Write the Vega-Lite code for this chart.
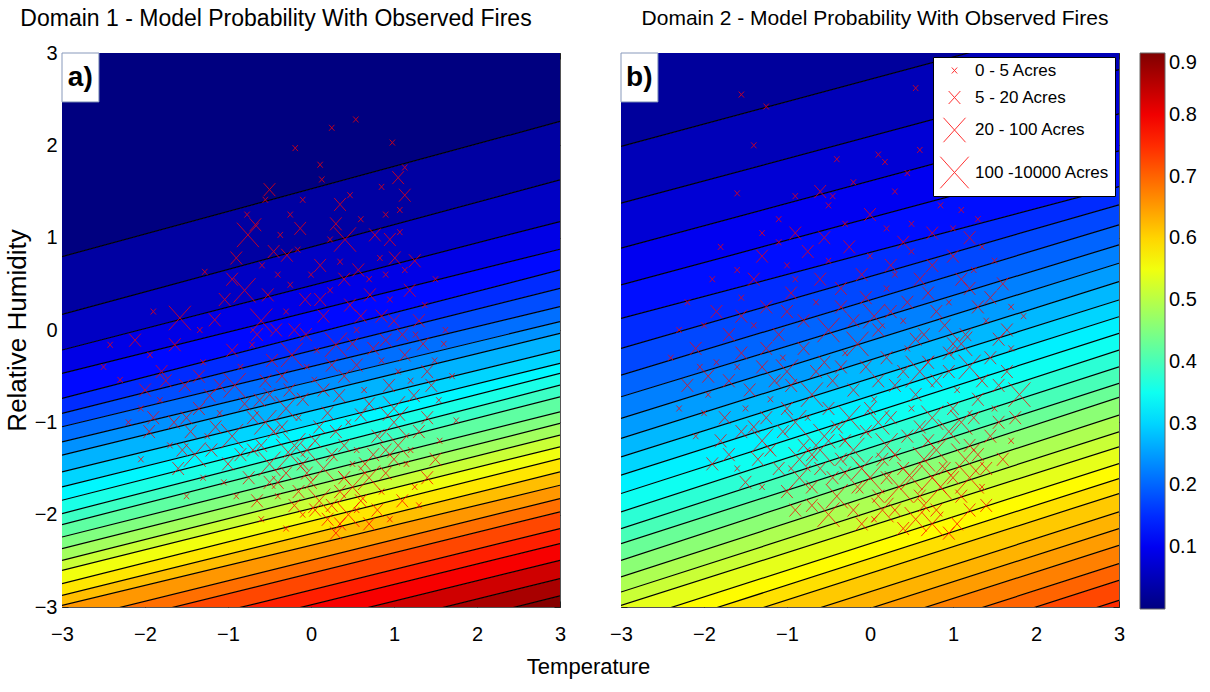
{
"$schema":"https://vega.github.io/schema/vega-lite/v6.json",
"background":"white",
"padding":{"left":3,"top":7,"right":5,"bottom":5},
"bounds":"flush",
"spacing":61,
"title":{"text":"Temperature","orient":"bottom","anchor":"middle","fontSize":22,"font":"Liberation Sans","fontWeight":"normal","color":"#000","offset":12,"dx":-12},
"config":{
 "view":{"stroke":"#555","strokeWidth":1},
 "axis":{"labelFont":"Liberation Sans","labelFontSize":20,"labelColor":"#000","tickColor":"#222","tickWidth":1,"domain":false,"grid":false,"titleFont":"Liberation Sans","titleFontSize":26,"titleFontWeight":"normal","titleColor":"#000"}
},
"resolve":{"legend":{"color":"independent","size":"independent"}},
"datasets":{
"bandsA":[
{"v":0,"T":-3,"hi":10,"lo":0.795},{"v":0,"T":3,"hi":10,"lo":2.259},
{"v":0.03,"T":-3,"hi":0.795,"lo":0.17},{"v":0.03,"T":3,"hi":2.259,"lo":1.627},
{"v":0.06,"T":-3,"hi":0.17,"lo":-0.217},{"v":0.06,"T":3,"hi":1.627,"lo":1.175},
{"v":0.09,"T":-3,"hi":-0.217,"lo":-0.47},{"v":0.09,"T":3,"hi":1.175,"lo":0.875},
{"v":0.12,"T":-3,"hi":-0.47,"lo":-0.741},{"v":0.12,"T":3,"hi":0.875,"lo":0.651},
{"v":0.15,"T":-3,"hi":-0.741,"lo":-0.904},{"v":0.15,"T":3,"hi":0.651,"lo":0.452},
{"v":0.18,"T":-3,"hi":-0.904,"lo":-1.048},{"v":0.18,"T":3,"hi":0.452,"lo":0.253},
{"v":0.21,"T":-3,"hi":-1.048,"lo":-1.211},{"v":0.21,"T":3,"hi":0.253,"lo":0.09},
{"v":0.24,"T":-3,"hi":-1.211,"lo":-1.356},{"v":0.24,"T":3,"hi":0.09,"lo":-0.036},
{"v":0.27,"T":-3,"hi":-1.356,"lo":-1.537},{"v":0.27,"T":3,"hi":-0.036,"lo":-0.217},
{"v":0.3,"T":-3,"hi":-1.537,"lo":-1.699},{"v":0.3,"T":3,"hi":-0.217,"lo":-0.361},
{"v":0.33,"T":-3,"hi":-1.699,"lo":-1.844},{"v":0.33,"T":3,"hi":-0.361,"lo":-0.47},
{"v":0.36,"T":-3,"hi":-1.844,"lo":-1.988},{"v":0.36,"T":3,"hi":-0.47,"lo":-0.597},
{"v":0.39,"T":-3,"hi":-1.988,"lo":-2.108},{"v":0.39,"T":3,"hi":-0.597,"lo":-0.723},
{"v":0.42,"T":-3,"hi":-2.108,"lo":-2.242},{"v":0.42,"T":3,"hi":-0.723,"lo":-0.886},
{"v":0.45,"T":-3,"hi":-2.242,"lo":-2.368},{"v":0.45,"T":3,"hi":-0.886,"lo":-1.012},
{"v":0.48,"T":-3,"hi":-2.368,"lo":-2.495},{"v":0.48,"T":3,"hi":-1.012,"lo":-1.139},
{"v":0.515,"T":-3,"hi":-2.495,"lo":-2.603},{"v":0.515,"T":3,"hi":-1.139,"lo":-1.265},
{"v":0.55,"T":-3,"hi":-2.603,"lo":-2.748},{"v":0.55,"T":3,"hi":-1.265,"lo":-1.392},
{"v":0.585,"T":-3,"hi":-2.748,"lo":-2.875},{"v":0.585,"T":3,"hi":-1.392,"lo":-1.537},
{"v":0.62,"T":-3,"hi":-2.875,"lo":-2.983},{"v":0.62,"T":3,"hi":-1.537,"lo":-1.681},
{"v":0.655,"T":-3,"hi":-2.983,"lo":-3.16},{"v":0.655,"T":3,"hi":-1.681,"lo":-1.826},
{"v":0.69,"T":-3,"hi":-3.16,"lo":-3.3},{"v":0.69,"T":3,"hi":-1.826,"lo":-1.97},
{"v":0.725,"T":-3,"hi":-3.3,"lo":-3.48},{"v":0.725,"T":3,"hi":-1.97,"lo":-2.151},
{"v":0.76,"T":-3,"hi":-3.48,"lo":-3.64},{"v":0.76,"T":3,"hi":-2.151,"lo":-2.314},
{"v":0.795,"T":-3,"hi":-3.64,"lo":-3.82},{"v":0.795,"T":3,"hi":-2.314,"lo":-2.495},
{"v":0.83,"T":-3,"hi":-3.82,"lo":-4.02},{"v":0.83,"T":3,"hi":-2.495,"lo":-2.693},
{"v":0.865,"T":-3,"hi":-4.02,"lo":-4.22},{"v":0.865,"T":3,"hi":-2.693,"lo":-2.88},
{"v":0.895,"T":-3,"hi":-4.22,"lo":-10},{"v":0.895,"T":3,"hi":-2.88,"lo":-10}
],
"bandsB":[
{"v":0.025,"T":-3,"hi":10,"lo":1.988},{"v":0.025,"T":3,"hi":10,"lo":3.44},
{"v":0.05,"T":-3,"hi":1.988,"lo":1.374},{"v":0.05,"T":3,"hi":3.44,"lo":2.82},
{"v":0.075,"T":-3,"hi":1.374,"lo":0.886},{"v":0.075,"T":3,"hi":2.82,"lo":2.34},
{"v":0.1,"T":-3,"hi":0.886,"lo":0.488},{"v":0.1,"T":3,"hi":2.34,"lo":1.94},
{"v":0.125,"T":-3,"hi":0.488,"lo":0.126},{"v":0.125,"T":3,"hi":1.94,"lo":1.554},
{"v":0.15,"T":-3,"hi":0.126,"lo":-0.199},{"v":0.15,"T":3,"hi":1.554,"lo":1.356},
{"v":0.175,"T":-3,"hi":-0.199,"lo":-0.488},{"v":0.175,"T":3,"hi":1.356,"lo":1.139},
{"v":0.2,"T":-3,"hi":-0.488,"lo":-0.723},{"v":0.2,"T":3,"hi":1.139,"lo":0.922},
{"v":0.225,"T":-3,"hi":-0.723,"lo":-0.958},{"v":0.225,"T":3,"hi":0.922,"lo":0.723},
{"v":0.25,"T":-3,"hi":-0.958,"lo":-1.175},{"v":0.25,"T":3,"hi":0.723,"lo":0.524},
{"v":0.275,"T":-3,"hi":-1.175,"lo":-1.374},{"v":0.275,"T":3,"hi":0.524,"lo":0.325},
{"v":0.3,"T":-3,"hi":-1.374,"lo":-1.573},{"v":0.3,"T":3,"hi":0.325,"lo":0.144},
{"v":0.325,"T":-3,"hi":-1.573,"lo":-1.771},{"v":0.325,"T":3,"hi":0.144,"lo":-0.036},
{"v":0.35,"T":-3,"hi":-1.771,"lo":-1.97},{"v":0.35,"T":3,"hi":-0.036,"lo":-0.217},
{"v":0.375,"T":-3,"hi":-1.97,"lo":-2.151},{"v":0.375,"T":3,"hi":-0.217,"lo":-0.398},
{"v":0.4,"T":-3,"hi":-2.151,"lo":-2.314},{"v":0.4,"T":3,"hi":-0.398,"lo":-0.578},
{"v":0.43,"T":-3,"hi":-2.314,"lo":-2.495},{"v":0.43,"T":3,"hi":-0.578,"lo":-0.73},
{"v":0.46,"T":-3,"hi":-2.495,"lo":-2.675},{"v":0.46,"T":3,"hi":-0.73,"lo":-0.922},
{"v":0.49,"T":-3,"hi":-2.675,"lo":-2.838},{"v":0.49,"T":3,"hi":-0.922,"lo":-1.103},
{"v":0.515,"T":-3,"hi":-2.838,"lo":-2.983},{"v":0.515,"T":3,"hi":-1.103,"lo":-1.265},
{"v":0.54,"T":-3,"hi":-2.983,"lo":-3.18},{"v":0.54,"T":3,"hi":-1.265,"lo":-1.446},
{"v":0.565,"T":-3,"hi":-3.18,"lo":-3.34},{"v":0.565,"T":3,"hi":-1.446,"lo":-1.609},
{"v":0.59,"T":-3,"hi":-3.34,"lo":-3.5},{"v":0.59,"T":3,"hi":-1.609,"lo":-1.771},
{"v":0.61,"T":-3,"hi":-3.5,"lo":-3.7},{"v":0.61,"T":3,"hi":-1.771,"lo":-1.97},
{"v":0.63,"T":-3,"hi":-3.7,"lo":-3.88},{"v":0.63,"T":3,"hi":-1.97,"lo":-2.151},
{"v":0.65,"T":-3,"hi":-3.88,"lo":-4.06},{"v":0.65,"T":3,"hi":-2.151,"lo":-2.332},
{"v":0.675,"T":-3,"hi":-4.06,"lo":-4.26},{"v":0.675,"T":3,"hi":-2.332,"lo":-2.531},
{"v":0.7,"T":-3,"hi":-4.26,"lo":-4.44},{"v":0.7,"T":3,"hi":-2.531,"lo":-2.712},
{"v":0.725,"T":-3,"hi":-4.44,"lo":-4.66},{"v":0.725,"T":3,"hi":-2.712,"lo":-2.928},
{"v":0.75,"T":-3,"hi":-4.66,"lo":-10},{"v":0.75,"T":3,"hi":-2.928,"lo":-10}
],
"firesA":[
{"T":0.54,"RH":2.28,"c":1},{"T":0.25,"RH":2.19,"c":1},{"T":-0.19,"RH":1.97,"c":1},{"T":0.98,"RH":2.03,"c":1},{"T":0.11,"RH":1.79,"c":1},{"T":0.13,"RH":1.63,"c":1},{"T":1.05,"RH":1.65,"c":2},{"T":1.13,"RH":1.76,"c":1},{"T":-0.5,"RH":1.52,"c":2},{"T":-0.55,"RH":1.41,"c":1},{"T":-0.77,"RH":1.25,"c":1},{"T":-0.25,"RH":1.25,"c":1},{"T":-0.1,"RH":1.41,"c":1},{"T":0.35,"RH":1.36,"c":2},{"T":0.47,"RH":1.46,"c":1},{"T":1.13,"RH":1.46,"c":2},{"T":1.07,"RH":1.3,"c":1},{"T":-0.76,"RH":1.03,"c":3},{"T":-0.67,"RH":1.14,"c":2},{"T":-0.37,"RH":1.03,"c":1},{"T":-0.13,"RH":1.1,"c":2},{"T":0.23,"RH":0.98,"c":1},{"T":0.41,"RH":0.98,"c":3},{"T":0.77,"RH":1.03,"c":2},{"T":0.95,"RH":0.98,"c":2},{"T":1.07,"RH":1.06,"c":1},{"T":0.6,"RH":1.2,"c":1},{"T":0.85,"RH":1.55,"c":1},
{"T":-1.28,"RH":0.63,"c":1},{"T":-0.9,"RH":0.78,"c":2},{"T":-0.59,"RH":0.7,"c":1},{"T":-0.29,"RH":0.81,"c":2},{"T":-0.16,"RH":0.87,"c":1},{"T":0.11,"RH":0.7,"c":2},{"T":0.35,"RH":0.74,"c":1},{"T":0.57,"RH":0.65,"c":2},{"T":0.83,"RH":0.78,"c":1},{"T":1.01,"RH":0.78,"c":2},{"T":1.13,"RH":0.65,"c":1},{"T":-1.04,"RH":0.33,"c":2},{"T":-0.8,"RH":0.43,"c":3},{"T":-0.52,"RH":0.38,"c":2},{"T":-0.25,"RH":0.49,"c":1},{"T":-0.07,"RH":0.33,"c":2},{"T":0.11,"RH":0.33,"c":2},{"T":0.23,"RH":0.43,"c":1},{"T":0.47,"RH":0.27,"c":2},{"T":0.71,"RH":0.38,"c":2},{"T":0.95,"RH":0.33,"c":1},{"T":1.19,"RH":0.43,"c":2},{"T":1.37,"RH":0.27,"c":1},{"T":-1.58,"RH":0.13,"c":3},{"T":-1.34,"RH":0.0,"c":1},{"T":-1.16,"RH":0.11,"c":2},{"T":-0.6,"RH":0.1,"c":3},{"T":-0.42,"RH":0.0,"c":2},{"T":-0.06,"RH":-0.05,"c":2},{"T":0.3,"RH":-0.16,"c":3},{"T":0.55,"RH":0.0,"c":1},{"T":0.9,"RH":-0.11,"c":2},{"T":1.26,"RH":-0.05,"c":1},{"T":1.62,"RH":0.0,"c":1},{"T":0.7,"RH":0.55,"c":1},{"T":1.5,"RH":0.55,"c":1},{"T":-1.9,"RH":0.2,"c":1},{"T":0.0,"RH":0.6,"c":1},{"T":1.3,"RH":0.1,"c":2},
{"T":-2.42,"RH":-0.16,"c":1},{"T":-2.12,"RH":-0.11,"c":2},{"T":-1.94,"RH":-0.27,"c":1},{"T":-1.64,"RH":-0.16,"c":2},{"T":-0.95,"RH":-0.22,"c":2},{"T":-0.71,"RH":-0.16,"c":1},{"T":-0.47,"RH":-0.33,"c":2},{"T":-0.23,"RH":-0.27,"c":3},{"T":0.07,"RH":-0.22,"c":1},{"T":0.25,"RH":-0.38,"c":2},{"T":0.55,"RH":-0.38,"c":2},{"T":0.85,"RH":-0.33,"c":1},{"T":1.13,"RH":-0.27,"c":2},{"T":1.49,"RH":-0.33,"c":1},{"T":-2.3,"RH":-0.54,"c":1},{"T":-2.0,"RH":-0.65,"c":2},{"T":-1.82,"RH":-0.76,"c":1},{"T":-1.52,"RH":-0.6,"c":2},{"T":-1.22,"RH":-0.71,"c":2},{"T":-0.92,"RH":-0.6,"c":3},{"T":-0.62,"RH":-0.76,"c":2},{"T":-0.26,"RH":-0.65,"c":2},{"T":0.04,"RH":-0.54,"c":1},{"T":0.34,"RH":-0.71,"c":2},{"T":0.64,"RH":-0.65,"c":1},{"T":0.94,"RH":-0.6,"c":2},{"T":1.24,"RH":-0.71,"c":2},{"T":1.54,"RH":-0.76,"c":1},{"T":1.7,"RH":-0.5,"c":1},{"T":-1.5,"RH":-0.95,"c":2},{"T":-1.1,"RH":-0.9,"c":1},{"T":-0.7,"RH":-0.95,"c":2},{"T":-0.3,"RH":-0.85,"c":3},{"T":0.2,"RH":-0.9,"c":2},{"T":0.6,"RH":-0.92,"c":2},{"T":1.0,"RH":-0.85,"c":3},{"T":1.4,"RH":-0.95,"c":2},{"T":1.75,"RH":-0.98,"c":1},
{"T":-2.2,"RH":-1.0,"c":1},{"T":-1.95,"RH":-1.1,"c":2},{"T":-1.7,"RH":-1.25,"c":1},{"T":-1.45,"RH":-1.1,"c":2},{"T":-1.2,"RH":-1.3,"c":2},{"T":-0.95,"RH":-1.15,"c":3},{"T":-0.7,"RH":-1.3,"c":2},{"T":-0.45,"RH":-1.1,"c":2},{"T":-0.2,"RH":-1.25,"c":3},{"T":0.05,"RH":-1.2,"c":2},{"T":0.3,"RH":-1.1,"c":2},{"T":0.55,"RH":-1.3,"c":1},{"T":0.8,"RH":-1.15,"c":2},{"T":1.05,"RH":-1.25,"c":3},{"T":1.3,"RH":-1.1,"c":2},{"T":1.55,"RH":-1.2,"c":1},{"T":-2.05,"RH":-1.4,"c":1},{"T":-1.6,"RH":-1.5,"c":2},{"T":-1.3,"RH":-1.6,"c":1},{"T":-1.0,"RH":-1.45,"c":2},{"T":-0.75,"RH":-1.6,"c":2},{"T":-0.5,"RH":-1.45,"c":3},{"T":-0.3,"RH":-1.55,"c":2},{"T":-0.1,"RH":-1.45,"c":2},{"T":-0.05,"RH":-1.55,"c":2},{"T":0.15,"RH":-1.5,"c":3},{"T":0.4,"RH":-1.6,"c":2},{"T":0.65,"RH":-1.45,"c":2},{"T":0.9,"RH":-1.55,"c":2},{"T":1.15,"RH":-1.45,"c":1},{"T":1.4,"RH":-1.6,"c":2},{"T":-0.4,"RH":-1.8,"c":1},{"T":-0.15,"RH":-1.75,"c":2},{"T":0.1,"RH":-1.85,"c":3},{"T":0.35,"RH":-1.75,"c":2},{"T":0.6,"RH":-1.85,"c":2},{"T":0.85,"RH":-1.75,"c":1},{"T":1.1,"RH":-1.85,"c":2},{"T":-0.6,"RH":-2.05,"c":1},{"T":0.2,"RH":-2.05,"c":2},{"T":0.45,"RH":-2.0,"c":3},{"T":0.7,"RH":-2.1,"c":2},{"T":0.95,"RH":-2.05,"c":1},{"T":0.3,"RH":-2.2,"c":2},{"T":-0.1,"RH":-2.0,"c":1},{"T":-0.25,"RH":-1.35,"c":4},{"T":0.5,"RH":-1.7,"c":4},{"T":-0.9,"RH":-1.8,"c":1},{"T":1.25,"RH":-1.7,"c":1},{"T":-1.5,"RH":-1.8,"c":1},{"T":0.0,"RH":-1.65,"c":2},{"T":-0.6,"RH":-1.25,"c":2},{"T":1.0,"RH":-1.0,"c":4},{"T":-1.4,"RH":-1.35,"c":3},
{"T":-0.35,"RH":-1.05,"c":2},{"T":-0.15,"RH":-0.95,"c":1},{"T":0.1,"RH":-1.05,"c":2},{"T":0.45,"RH":-1.0,"c":1},{"T":0.7,"RH":-0.8,"c":2},{"T":1.2,"RH":-0.55,"c":1},{"T":1.45,"RH":-0.6,"c":2},{"T":-0.85,"RH":-0.4,"c":1},{"T":-0.55,"RH":-0.55,"c":2},{"T":-0.05,"RH":-0.4,"c":1},{"T":0.4,"RH":-0.5,"c":2},{"T":0.75,"RH":-0.2,"c":2},{"T":1.05,"RH":-0.45,"c":1},{"T":1.35,"RH":-0.15,"c":2},{"T":-1.3,"RH":-0.35,"c":1},{"T":-1.8,"RH":-0.45,"c":2},{"T":-2.05,"RH":-0.85,"c":1},{"T":-1.65,"RH":-1.0,"c":2},{"T":-1.25,"RH":-1.15,"c":1},{"T":-0.85,"RH":-1.35,"c":2},{"T":-0.4,"RH":-1.65,"c":2},{"T":-0.2,"RH":-1.9,"c":2},{"T":0.25,"RH":-1.35,"c":2},{"T":0.5,"RH":-1.45,"c":1},{"T":0.75,"RH":-1.35,"c":2},{"T":1.0,"RH":-1.4,"c":2},{"T":1.2,"RH":-1.3,"c":1},{"T":1.5,"RH":-1.4,"c":2},{"T":-1.05,"RH":-1.65,"c":1},{"T":-0.65,"RH":-1.85,"c":2},{"T":0.05,"RH":-1.95,"c":2},{"T":0.55,"RH":-1.95,"c":1},{"T":0.8,"RH":-1.95,"c":2},{"T":1.3,"RH":-1.9,"c":1},{"T":0.35,"RH":-2.1,"c":2},{"T":-0.3,"RH":-2.15,"c":1},{"T":0.15,"RH":0.15,"c":2},{"T":0.4,"RH":0.55,"c":2},{"T":0.9,"RH":0.6,"c":1},{"T":1.25,"RH":0.75,"c":2},{"T":-0.4,"RH":0.6,"c":1},{"T":-0.95,"RH":0.55,"c":2},{"T":0.6,"RH":0.15,"c":2},{"T":1.0,"RH":0.1,"c":2},{"T":-0.3,"RH":0.2,"c":1},{"T":0.3,"RH":1.15,"c":2},{"T":0.9,"RH":1.25,"c":1},{"T":-0.45,"RH":0.85,"c":2},{"T":1.6,"RH":-0.15,"c":1},{"T":-2.5,"RH":-0.4,"c":1},
{"T":-1.75,"RH":-0.55,"c":2},{"T":-1.35,"RH":-0.5,"c":2},{"T":-1.1,"RH":-0.6,"c":2},{"T":-0.8,"RH":-0.8,"c":2},{"T":-0.5,"RH":-0.7,"c":2},{"T":-0.1,"RH":-0.75,"c":2},{"T":0.15,"RH":-0.65,"c":2},{"T":-1.9,"RH":-0.95,"c":2},{"T":-1.35,"RH":-0.85,"c":2},{"T":-0.55,"RH":-1.0,"c":3},{"T":-0.05,"RH":-1.3,"c":2},{"T":0.4,"RH":-1.25,"c":2},{"T":0.9,"RH":-1.3,"c":2},{"T":-1.15,"RH":-1.05,"c":2},{"T":-1.55,"RH":-1.3,"c":2},{"T":-0.35,"RH":-0.5,"c":2},{"T":0.5,"RH":-0.15,"c":2},{"T":1.1,"RH":-0.05,"c":2},{"T":-0.2,"RH":0.0,"c":2},{"T":0.85,"RH":0.15,"c":2},{"T":-0.65,"RH":-0.05,"c":2},{"T":1.4,"RH":-0.45,"c":2},{"T":0.25,"RH":-1.9,"c":2},{"T":-0.5,"RH":-1.65,"c":2},{"T":0.7,"RH":-1.6,"c":3}
],
"firesB":[
{"T":-1.55,"RH":2.55,"c":1},{"T":-1.25,"RH":2.42,"c":1},{"T":0.55,"RH":2.62,"c":1},{"T":-1.4,"RH":2.0,"c":1},{"T":-0.4,"RH":1.85,"c":1},{"T":0.1,"RH":1.9,"c":1},{"T":0.18,"RH":1.82,"c":1},{"T":0.6,"RH":1.95,"c":1},{"T":0.45,"RH":1.7,"c":1},{"T":-1.6,"RH":1.48,"c":1},{"T":-0.6,"RH":1.5,"c":2},{"T":-0.45,"RH":1.45,"c":1},{"T":0.3,"RH":1.5,"c":1},{"T":0.9,"RH":1.55,"c":1},{"T":1.1,"RH":1.3,"c":1},{"T":-1.1,"RH":1.2,"c":1},{"T":-0.9,"RH":1.05,"c":2},{"T":-0.3,"RH":1.15,"c":1},{"T":0.0,"RH":1.25,"c":2},{"T":0.5,"RH":1.15,"c":1},{"T":0.75,"RH":1.05,"c":2},{"T":1.0,"RH":1.1,"c":1},{"T":-0.5,"RH":1.35,"c":1},{"T":1.2,"RH":1.0,"c":2},{"T":-0.2,"RH":1.6,"c":1},{"T":0.85,"RH":1.35,"c":1},
{"T":-1.9,"RH":0.55,"c":1},{"T":-1.6,"RH":0.65,"c":1},{"T":-1.3,"RH":0.8,"c":2},{"T":-1.0,"RH":0.7,"c":1},{"T":-0.75,"RH":0.85,"c":2},{"T":-0.5,"RH":0.75,"c":1},{"T":-0.25,"RH":0.9,"c":2},{"T":0.0,"RH":0.8,"c":1},{"T":0.25,"RH":0.7,"c":2},{"T":0.5,"RH":0.85,"c":1},{"T":0.75,"RH":0.7,"c":2},{"T":1.0,"RH":0.8,"c":2},{"T":1.25,"RH":0.65,"c":1},{"T":1.5,"RH":0.75,"c":1},{"T":-2.2,"RH":0.3,"c":1},{"T":-1.85,"RH":0.2,"c":2},{"T":-1.55,"RH":0.35,"c":1},{"T":-1.25,"RH":0.25,"c":2},{"T":-0.95,"RH":0.4,"c":2},{"T":-0.65,"RH":0.3,"c":1},{"T":-0.35,"RH":0.45,"c":2},{"T":-0.05,"RH":0.35,"c":2},{"T":0.2,"RH":0.45,"c":1},{"T":0.45,"RH":0.3,"c":2},{"T":0.7,"RH":0.4,"c":2},{"T":0.95,"RH":0.3,"c":1},{"T":1.2,"RH":0.45,"c":2},{"T":1.45,"RH":0.35,"c":2},{"T":1.7,"RH":0.25,"c":1},{"T":-2.0,"RH":0.05,"c":1},{"T":-1.7,"RH":-0.05,"c":2},{"T":-1.4,"RH":0.05,"c":1},{"T":-1.1,"RH":-0.05,"c":2},{"T":-0.8,"RH":0.1,"c":2},{"T":-0.5,"RH":0.0,"c":3},{"T":-0.2,"RH":0.1,"c":2},{"T":0.1,"RH":0.0,"c":2},{"T":0.4,"RH":0.1,"c":1},{"T":0.65,"RH":-0.05,"c":2},{"T":0.9,"RH":0.05,"c":2},{"T":1.15,"RH":-0.05,"c":2},{"T":1.4,"RH":0.1,"c":1},{"T":1.65,"RH":0.0,"c":2},{"T":1.85,"RH":0.15,"c":1},{"T":0.3,"RH":0.6,"c":1},{"T":-0.9,"RH":0.55,"c":1},{"T":1.1,"RH":0.55,"c":2},{"T":0.05,"RH":0.15,"c":3},
{"T":-2.4,"RH":-0.3,"c":1},{"T":-2.1,"RH":-0.2,"c":2},{"T":-1.85,"RH":-0.35,"c":1},{"T":-1.55,"RH":-0.25,"c":2},{"T":-1.3,"RH":-0.4,"c":2},{"T":-1.05,"RH":-0.3,"c":1},{"T":-0.8,"RH":-0.2,"c":2},{"T":-0.55,"RH":-0.35,"c":2},{"T":-0.3,"RH":-0.25,"c":1},{"T":-0.05,"RH":-0.4,"c":2},{"T":0.2,"RH":-0.3,"c":2},{"T":0.45,"RH":-0.2,"c":1},{"T":0.7,"RH":-0.35,"c":2},{"T":0.95,"RH":-0.25,"c":2},{"T":1.2,"RH":-0.4,"c":3},{"T":1.45,"RH":-0.3,"c":2},{"T":1.7,"RH":-0.2,"c":1},{"T":-2.2,"RH":-0.6,"c":2},{"T":-1.95,"RH":-0.7,"c":1},{"T":-1.7,"RH":-0.55,"c":2},{"T":-1.45,"RH":-0.65,"c":2},{"T":-1.2,"RH":-0.75,"c":1},{"T":-0.95,"RH":-0.6,"c":2},{"T":-0.7,"RH":-0.7,"c":3},{"T":-0.45,"RH":-0.55,"c":2},{"T":-0.2,"RH":-0.65,"c":2},{"T":0.05,"RH":-0.75,"c":1},{"T":0.3,"RH":-0.6,"c":2},{"T":0.55,"RH":-0.7,"c":2},{"T":0.8,"RH":-0.55,"c":2},{"T":1.05,"RH":-0.65,"c":1},{"T":1.3,"RH":-0.75,"c":2},{"T":1.55,"RH":-0.6,"c":2},{"T":1.8,"RH":-0.7,"c":3},{"T":-2.0,"RH":-0.9,"c":1},{"T":-1.75,"RH":-0.95,"c":2},{"T":-1.5,"RH":-0.85,"c":1},{"T":-1.25,"RH":-0.95,"c":2},{"T":-1.0,"RH":-0.85,"c":2},{"T":-0.75,"RH":-0.95,"c":1},{"T":-0.5,"RH":-0.85,"c":2},{"T":-0.25,"RH":-0.95,"c":3},{"T":0.0,"RH":-0.85,"c":2},{"T":0.25,"RH":-0.95,"c":2},{"T":0.5,"RH":-0.85,"c":1},{"T":0.75,"RH":-0.95,"c":3},{"T":1.0,"RH":-0.85,"c":2},{"T":1.25,"RH":-0.95,"c":2},{"T":1.5,"RH":-0.85,"c":1},{"T":1.75,"RH":-0.95,"c":2},{"T":0.6,"RH":-0.45,"c":4},{"T":-1.0,"RH":-0.45,"c":3},{"T":1.1,"RH":-0.15,"c":3},
{"T":-2.1,"RH":-1.15,"c":1},{"T":-1.8,"RH":-1.2,"c":2},{"T":-1.55,"RH":-1.1,"c":2},{"T":-1.3,"RH":-1.2,"c":3},{"T":-1.05,"RH":-1.1,"c":2},{"T":-0.8,"RH":-1.25,"c":2},{"T":-0.55,"RH":-1.15,"c":3},{"T":-0.3,"RH":-1.2,"c":2},{"T":-0.05,"RH":-1.1,"c":2},{"T":0.2,"RH":-1.25,"c":3},{"T":0.45,"RH":-1.15,"c":2},{"T":0.7,"RH":-1.2,"c":2},{"T":0.95,"RH":-1.1,"c":3},{"T":1.2,"RH":-1.25,"c":2},{"T":1.45,"RH":-1.15,"c":2},{"T":1.7,"RH":-1.2,"c":1},{"T":-1.9,"RH":-1.45,"c":2},{"T":-1.6,"RH":-1.5,"c":1},{"T":-1.35,"RH":-1.4,"c":2},{"T":-1.1,"RH":-1.5,"c":2},{"T":-0.85,"RH":-1.4,"c":3},{"T":-0.6,"RH":-1.5,"c":2},{"T":-0.35,"RH":-1.4,"c":2},{"T":-0.1,"RH":-1.5,"c":3},{"T":0.15,"RH":-1.4,"c":2},{"T":0.4,"RH":-1.5,"c":2},{"T":0.65,"RH":-1.4,"c":3},{"T":0.9,"RH":-1.5,"c":2},{"T":1.15,"RH":-1.4,"c":4},{"T":1.4,"RH":-1.5,"c":2},{"T":-1.3,"RH":-1.7,"c":1},{"T":-1.0,"RH":-1.75,"c":2},{"T":-0.7,"RH":-1.7,"c":2},{"T":-0.4,"RH":-1.8,"c":3},{"T":-0.15,"RH":-1.7,"c":2},{"T":0.1,"RH":-1.8,"c":2},{"T":0.35,"RH":-1.7,"c":4},{"T":0.6,"RH":-1.8,"c":2},{"T":0.85,"RH":-1.7,"c":3},{"T":1.1,"RH":-1.8,"c":2},{"T":1.35,"RH":-1.7,"c":1},{"T":-0.5,"RH":-2.0,"c":3},{"T":-0.2,"RH":-1.95,"c":2},{"T":0.05,"RH":-2.05,"c":1},{"T":0.3,"RH":-1.95,"c":2},{"T":0.55,"RH":-2.05,"c":3},{"T":0.8,"RH":-1.95,"c":2},{"T":1.05,"RH":-2.1,"c":2},{"T":-0.9,"RH":-1.95,"c":2},{"T":0.95,"RH":-2.2,"c":2},{"T":0.0,"RH":-1.6,"c":4},{"T":0.75,"RH":-1.6,"c":4},{"T":-0.6,"RH":-1.3,"c":4},{"T":1.2,"RH":-1.6,"c":4},{"T":-0.3,"RH":-1.55,"c":2},
{"T":-1.8,"RH":0.9,"c":1},{"T":-1.4,"RH":0.55,"c":2},{"T":-0.6,"RH":0.55,"c":2},{"T":-0.1,"RH":0.6,"c":2},{"T":0.6,"RH":0.55,"c":2},{"T":1.35,"RH":0.9,"c":1},{"T":1.6,"RH":0.5,"c":2},{"T":-2.3,"RH":0.0,"c":1},{"T":-1.55,"RH":0.15,"c":2},{"T":-0.35,"RH":0.25,"c":2},{"T":0.25,"RH":0.2,"c":2},{"T":0.8,"RH":0.2,"c":2},{"T":1.3,"RH":0.25,"c":2},{"T":1.55,"RH":-0.1,"c":2},{"T":-1.95,"RH":-0.5,"c":2},{"T":-1.6,"RH":-0.4,"c":1},{"T":-1.15,"RH":-0.55,"c":2},{"T":-0.65,"RH":-0.45,"c":2},{"T":-0.35,"RH":-0.4,"c":2},{"T":0.1,"RH":-0.55,"c":2},{"T":0.4,"RH":-0.45,"c":2},{"T":0.95,"RH":-0.45,"c":2},{"T":1.35,"RH":-0.55,"c":2},{"T":1.65,"RH":-0.45,"c":2},{"T":-2.3,"RH":-0.85,"c":1},{"T":-1.4,"RH":-1.05,"c":2},{"T":-0.9,"RH":-1.0,"c":3},{"T":-0.4,"RH":-1.05,"c":2},{"T":0.1,"RH":-1.0,"c":3},{"T":0.6,"RH":-1.05,"c":2},{"T":1.1,"RH":-1.0,"c":3},{"T":1.55,"RH":-1.0,"c":2},{"T":-1.7,"RH":-1.35,"c":2},{"T":-1.2,"RH":-1.3,"c":2},{"T":-0.7,"RH":-1.35,"c":2},{"T":-0.2,"RH":-1.3,"c":3},{"T":0.3,"RH":-1.35,"c":2},{"T":0.8,"RH":-1.3,"c":3},{"T":1.3,"RH":-1.35,"c":2},{"T":1.6,"RH":-1.4,"c":2},{"T":-1.5,"RH":-1.65,"c":2},{"T":-0.85,"RH":-1.6,"c":3},{"T":-0.45,"RH":-1.6,"c":2},{"T":0.2,"RH":-1.6,"c":2},{"T":0.5,"RH":-1.6,"c":3},{"T":1.0,"RH":-1.6,"c":2},{"T":1.4,"RH":-1.9,"c":2},{"T":-0.7,"RH":-1.9,"c":2},{"T":0.15,"RH":-1.95,"c":3},{"T":0.65,"RH":-1.9,"c":2},{"T":1.2,"RH":-1.95,"c":2},{"T":-0.1,"RH":-2.1,"c":2},{"T":0.4,"RH":-2.15,"c":2},{"T":0.75,"RH":-2.1,"c":3},{"T":-1.0,"RH":0.2,"c":2},{"T":-0.15,"RH":-0.15,"c":3},{"T":0.55,"RH":-0.1,"c":2},{"T":1.0,"RH":-0.15,"c":2},{"T":-1.25,"RH":-0.2,"c":2},{"T":-2.05,"RH":-0.4,"c":1},{"T":-0.9,"RH":1.45,"c":1},{"T":0.2,"RH":1.1,"c":1},{"T":1.3,"RH":1.2,"c":1},{"T":-1.3,"RH":1.05,"c":1},{"T":0.4,"RH":0.95,"c":2},{"T":-0.55,"RH":1.0,"c":2},{"T":-1.1,"RH":0.95,"c":1}
]
},
"hconcat":[
{
 "width":498,"height":554,
 "title":{"text":"Domain 1 -  Model Probability With Observed Fires","fontSize":23,"font":"Liberation Sans","fontWeight":"normal","color":"#000","offset":12,"dx":-35},
 "resolve":{"axis":{"x":"independent","y":"independent"}},
 "layer":[
  {"data":{"name":"bandsA"},
   "mark":{"type":"area","clip":true,"interpolate":"linear"},
   "encoding":{
    "x":{"field":"T","type":"quantitative","scale":{"domain":[-3,3],"nice":false,"zero":false},"axis":{"values":[-3,-2,-1,0,1,2,3],"title":null,"labelFlush":false,"tickSize":-6,"labelPadding":23}},
    "y":{"field":"hi","type":"quantitative","stack":null,"scale":{"domain":[-3,3],"nice":false,"zero":false},"axis":{"values":[-3,-2,-1,0,1,2,3],"title":"Relative Humidity","tickSize":-6,"labelPadding":11,"titlePadding":4}},
    "y2":{"field":"lo"},
    "color":{"field":"v","type":"quantitative","scale":{"type":"linear","domain":[0,0.9],"range":["#000080","#0000ff","#0080ff","#00ffff","#80ff80","#ffff00","#ff8000","#ff0000","#800000"],"interpolate":"rgb"},"legend":null},
    "detail":{"field":"v","type":"nominal"}
   }},
  {"data":{"name":"bandsA"},
   "transform":[{"filter":"datum.hi < 9"}],
   "mark":{"type":"line","clip":true,"color":"#000","strokeWidth":1.2},
   "encoding":{
    "x":{"field":"T","type":"quantitative","axis":{"orient":"top","values":[-3,-2,-1,0,1,2,3],"labels":false,"title":null,"tickSize":-6}},
    "y":{"field":"hi","type":"quantitative","axis":{"orient":"right","values":[-3,-2,-1,0,1,2,3],"labels":false,"title":null,"tickSize":-6}},
    "detail":{"field":"v","type":"nominal"}
   }},
  {"data":{"name":"firesA"},
   "mark":{"type":"point","shape":"M-0.9,-1L0.9,1M-0.9,1L0.9,-1","filled":false,"color":"#ff0000","strokeWidth":1,"opacity":0.75,"clip":true},
   "encoding":{
    "x":{"field":"T","type":"quantitative","axis":null},
    "y":{"field":"RH","type":"quantitative","axis":null},
    "size":{"field":"c","type":"quantitative","scale":{"type":"linear","domain":[1,2,3,4],"range":[36,169,600,1000],"zero":false,"nice":false},"legend":null}
   }},
  {"data":{"values":[{}]},
   "mark":{"type":"rect","fill":"#fff","stroke":"#8899bb","strokeWidth":1},
   "encoding":{"x":{"datum":-3,"type":"quantitative","axis":null},"x2":{"datum":-2.555},"y":{"datum":3,"type":"quantitative","axis":null},"y2":{"datum":2.47}}},
  {"data":{"values":[{}]},
   "mark":{"type":"text","font":"Liberation Sans","fontSize":28,"fontWeight":"bold","color":"#000","align":"center","baseline":"middle"},
   "encoding":{"x":{"datum":-2.78,"type":"quantitative","axis":null},"y":{"datum":2.73,"type":"quantitative","axis":null},"text":{"value":"a)"}}}
 ]
},
{
 "width":498,"height":554,
 "title":{"text":"Domain 2 -  Model Probability With Observed Fires","fontSize":21,"font":"Liberation Sans","fontWeight":"normal","color":"#000","offset":24,"dx":5},
 "resolve":{"axis":{"x":"independent","y":"independent"}},
 "layer":[
  {"data":{"name":"bandsB"},
   "mark":{"type":"area","clip":true,"interpolate":"linear"},
   "encoding":{
    "x":{"field":"T","type":"quantitative","scale":{"domain":[-3,3],"nice":false,"zero":false},"axis":{"values":[-3,-2,-1,0,1,2,3],"title":null,"labelFlush":false,"tickSize":-6,"labelPadding":23}},
    "y":{"field":"hi","type":"quantitative","stack":null,"scale":{"domain":[-3,3],"nice":false,"zero":false},"axis":{"values":[-3,-2,-1,0,1,2,3],"title":null,"labels":false,"tickSize":-6}},
    "y2":{"field":"lo"},
    "color":{"field":"v","type":"quantitative","scale":{"type":"linear","domain":[0,0.9],"range":["#000080","#0000ff","#0080ff","#00ffff","#80ff80","#ffff00","#ff8000","#ff0000","#800000"],"interpolate":"rgb"},
     "legend":{"orient":"right","offset":20,"title":null,"direction":"vertical","gradientLength":556,"gradientThickness":25,"values":[0.1,0.2,0.3,0.4,0.5,0.6,0.7,0.8,0.9],"labelFont":"Liberation Sans","labelFontSize":20,"labelColor":"#000","labelOffset":4,"labelOverlap":false,"gradientStrokeColor":"#666","gradientStrokeWidth":1}},
    "detail":{"field":"v","type":"nominal"}
   }},
  {"data":{"name":"bandsB"},
   "transform":[{"filter":"datum.hi < 9"}],
   "mark":{"type":"line","clip":true,"color":"#000","strokeWidth":1.2},
   "encoding":{
    "x":{"field":"T","type":"quantitative","axis":{"orient":"top","values":[-3,-2,-1,0,1,2,3],"labels":false,"title":null,"tickSize":-6}},
    "y":{"field":"hi","type":"quantitative","axis":{"orient":"right","values":[-3,-2,-1,0,1,2,3],"labels":false,"title":null,"tickSize":-6}},
    "detail":{"field":"v","type":"nominal"}
   }},
  {"data":{"name":"firesB"},
   "mark":{"type":"point","shape":"M-0.9,-1L0.9,1M-0.9,1L0.9,-1","filled":false,"color":"#ff0000","strokeWidth":1,"opacity":0.75,"clip":true},
   "encoding":{
    "x":{"field":"T","type":"quantitative","axis":null},
    "y":{"field":"RH","type":"quantitative","axis":null},
    "size":{"field":"c","type":"quantitative","scale":{"type":"linear","domain":[1,2,3,4],"range":[36,169,600,1000],"zero":false,"nice":false},
     "legend":{"orient":"top-right","offset":4,"title":null,"type":"symbol","values":[1,2,3,4],"fillColor":"#fff","strokeColor":"#000","padding":5,"rowPadding":9,"labelFont":"Liberation Sans","labelFontSize":17,"labelColor":"#000","labelOffset":4,"symbolType":"M-0.9,-1L0.9,1M-0.9,1L0.9,-1","symbolStrokeColor":"#ff0000","symbolFillColor":"transparent","symbolStrokeWidth":1,"symbolOpacity":0.8,
      "labelExpr":"datum.value == 1 ? '0 - 5 Acres' : datum.value == 2 ? '5 - 20 Acres' : datum.value == 3 ? '20 - 100 Acres' : '100 -10000 Acres'"}}
   }},
  {"data":{"values":[{}]},
   "mark":{"type":"rect","fill":"#fff","stroke":"#8899bb","strokeWidth":1},
   "encoding":{"x":{"datum":-3,"type":"quantitative","axis":null},"x2":{"datum":-2.555},"y":{"datum":3,"type":"quantitative","axis":null},"y2":{"datum":2.47}}},
  {"data":{"values":[{}]},
   "mark":{"type":"text","font":"Liberation Sans","fontSize":28,"fontWeight":"bold","color":"#000","align":"center","baseline":"middle"},
   "encoding":{"x":{"datum":-2.78,"type":"quantitative","axis":null},"y":{"datum":2.73,"type":"quantitative","axis":null},"text":{"value":"b)"}}}
 ]
}
]
}
